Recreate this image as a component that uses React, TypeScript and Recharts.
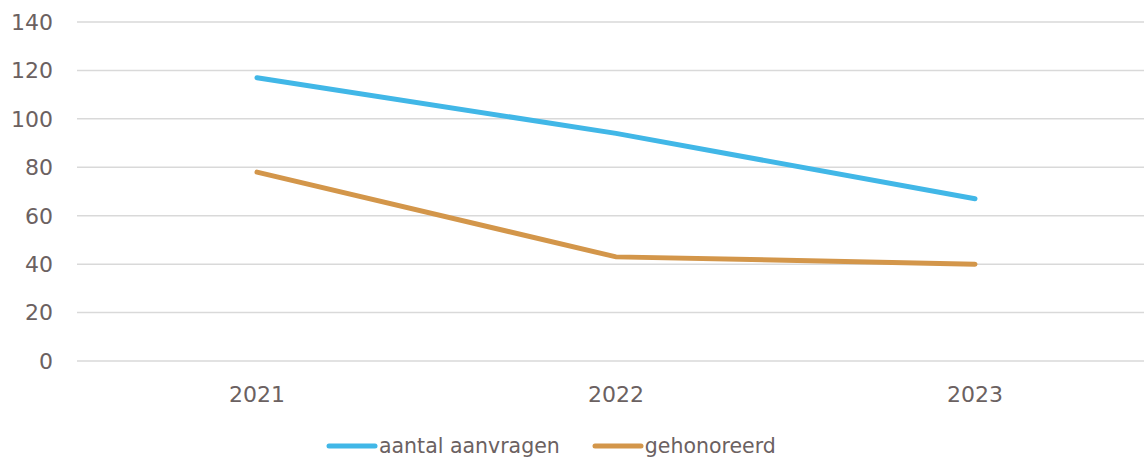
import React from "react";
import { LineChart, Line, XAxis, YAxis, CartesianGrid, Legend } from "recharts";

const years = ["2021", "2022", "2023"];
const aanvragen = [117, 94, 67];
const gehonoreerd = [78, 43, 40];
const yTicks = [0, 20, 40, 60, 80, 100, 120, 140];

const data = years.map((year, i) => ({
  year,
  aanvragen: aanvragen[i],
  gehonoreerd: gehonoreerd[i],
}));

const FONT = "'DejaVu Sans', Verdana, sans-serif";
const INK = "#6b6161";
const BLUE = "#41b7e7";
const ORANGE = "#d3964a";

// horizontal legend, placed by hand under the plot
const renderLegend = (props: any) => {
  const items = props.payload || [];
  return (
    <div style={{ display: "flex", alignItems: "center", height: 20, fontFamily: FONT, fontSize: 20.5, color: INK }}>
      {items.map((it: any, i: number) => (
        <div key={it.value} style={{ display: "flex", alignItems: "center", marginRight: i === 0 ? 32 : 0 }}>
          <svg width={52} height={10} style={{ marginRight: 1 }}>
            <line x1={3} y1={5} x2={49} y2={5} stroke={it.color} strokeWidth={5} strokeLinecap="round" />
          </svg>
          <span style={{ lineHeight: "20px" }}>{it.value}</span>
        </div>
      ))}
    </div>
  );
};

export default function App() {
  return (
    <div style={{ position: "absolute", left: 0, top: 0, width: 1144, height: 461, overflow: "hidden", background: "#fff" }}>
      <LineChart width={1155} height={461} data={data} margin={{ top: 22, right: 0, left: 0, bottom: 50 }}>
        <CartesianGrid vertical={false} stroke="#d9d9d9" strokeWidth={1.5} />
        <XAxis
          dataKey="year"
          axisLine={false}
          tickLine={false}
          tickMargin={19}
          padding={{ left: 180, right: 180 }}
          tick={{ fill: INK, fontSize: 22, fontFamily: FONT }}
        />
        <YAxis
          width={77}
          domain={[0, 140]}
          ticks={yTicks}
          axisLine={false}
          tickLine={false}
          tickMargin={18}
          tick={{ fill: INK, fontSize: 22, fontFamily: FONT }}
        />
        <Legend
          layout="vertical"
          align="center"
          verticalAlign="bottom"
          content={renderLegend}
          wrapperStyle={{ left: 326, top: 436, bottom: "auto", width: "auto" }}
        />
        <Line
          type="linear"
          dataKey="aanvragen"
          name="aantal aanvragen"
          stroke={BLUE}
          strokeWidth={5}
          strokeLinecap="round"
          dot={false}
          activeDot={false}
          isAnimationActive={false}
        />
        <Line
          type="linear"
          dataKey="gehonoreerd"
          name="gehonoreerd"
          stroke={ORANGE}
          strokeWidth={5}
          strokeLinecap="round"
          dot={false}
          activeDot={false}
          isAnimationActive={false}
        />
      </LineChart>
    </div>
  );
}
